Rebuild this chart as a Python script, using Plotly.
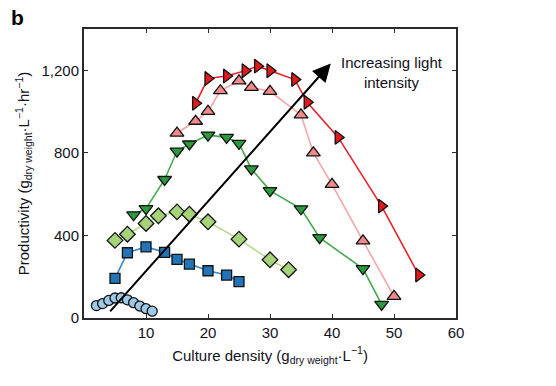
import plotly.graph_objects as go

# Culture density (x) and productivity (y) for six light intensities
x1 = [2, 3, 4, 5, 6, 7, 8, 9, 10, 11]
y1 = [60, 70, 85, 97, 98, 88, 74, 58, 45, 33]

x2 = [5, 7, 10, 13, 15, 17, 20, 23, 25]
y2 = [192, 316, 345, 318, 284, 261, 229, 208, 176]

x3 = [5, 7, 10, 12, 15, 17, 20, 25, 30, 33]
y3 = [376, 406, 458, 495, 514, 503, 466, 382, 282, 234]

x4 = [8, 10, 13, 15, 17, 20, 23, 25, 27, 30, 35, 38, 45, 48]
y4 = [500, 530, 671, 808, 843, 886, 875, 846, 722, 617, 529, 389, 239, 66]

x5 = [15, 18, 20, 22, 25, 27, 30, 35, 37, 40, 45, 50]
y5 = [896, 953, 1001, 1101, 1149, 1117, 1098, 984, 800, 647, 374, 105]

x6 = [18, 20, 23, 26, 28, 30, 34, 36, 41, 48, 54]
y6 = [1040, 1160, 1172, 1198, 1220, 1198, 1155, 1045, 875, 542, 208]

x_ticks = [10, 20, 30, 40, 50, 60]
y_ticks = [0, 400, 800, 1200]
y_tick_labels = ["0", "400", "800", "1,200"]

arrow_start = (4, 25)
arrow_end = (39.8, 1233)

series = [
    (x1, y1, "circle", 10, "#9ecae8", "#8fbfe0"),
    (x2, y2, "square", 10, "#2274b8", "#3386c8"),
    (x3, y3, "diamond", 12, "#a6d27a", "#b5dc8c"),
    (x4, y4, "triangle-down", 12, "#2b9a3c", "#45a94f"),
    (x5, y5, "triangle-up", 12, "#f08a8a", "#f6a5a5"),
    (x6, y6, "triangle-right", 12, "#e31a1c", "#e8232a"),
]

fig = go.Figure()
for xs, ys, sym, sz, fill, lc in series:
    fig.add_trace(go.Scatter(
        x=xs, y=ys, mode="lines+markers",
        line=dict(color=lc, width=1.6),
        marker=dict(symbol=sym, size=sz, color=fill,
                    line=dict(color="#111111", width=1.3)),
        showlegend=False,
    ))

L, T, PW, PH = 84, 29, 372, 289
W, H = 556, 386
font_family = "Liberation Sans, Arial, sans-serif"
fig.update_layout(
    width=W, height=H,
    margin=dict(l=L, r=W - L - PW, t=T, b=H - T - PH, autoexpand=False),
    paper_bgcolor="white", plot_bgcolor="white",
    font=dict(family=font_family, size=15, color="#111122"),
    xaxis=dict(
        range=[0, 60], tickvals=x_ticks, ticks="inside", ticklen=4,
        mirror="allticks", showline=True, linecolor="#2a2a2a", linewidth=2,
        showgrid=False, zeroline=False, tickcolor="#2a2a2a",
        tickfont=dict(size=15), automargin=False,
        title=dict(text="Culture density (g<sub>dry weight</sub>·L<sup>−1</sup>)",
                   font=dict(size=15), standoff=10),
    ),
    yaxis=dict(
        range=[0, 1400], tickvals=y_ticks, ticktext=y_tick_labels,
        ticks="inside", ticklen=4, automargin=False,
        mirror="allticks", showline=True, linecolor="#2a2a2a", linewidth=2,
        showgrid=False, zeroline=False, tickcolor="#2a2a2a",
        tickfont=dict(size=15),
        title=dict(text="Productivity (g<sub>dry weight</sub>·L<sup>−1</sup>·hr<sup>−1</sup>)",
                   font=dict(size=15), standoff=8),
    ),
)

fig.add_annotation(
    x=arrow_end[0], y=arrow_end[1], ax=arrow_start[0], ay=arrow_start[1],
    xref="x", yref="y", axref="x", ayref="y",
    text="", showarrow=True, arrowhead=2, arrowsize=1.8, arrowwidth=2,
    arrowcolor="black",
)
fig.add_annotation(
    x=49.7, y=1188, xref="x", yref="y",
    text="Increasing light<br>intensity", showarrow=False,
    font=dict(size=15, color="#111122"), align="center",
)
fig.add_annotation(
    x=-(L - 17) / PW, y=1 + (T - 17) / PH, xref="paper", yref="paper",
    text="<b>b</b>", showarrow=False, font=dict(size=21, color="black"),
    xanchor="center", yanchor="middle",
)

fig.write_html("out.html", config={"displayModeBar": False},
               post_script="document.body.style.margin='0px';")
